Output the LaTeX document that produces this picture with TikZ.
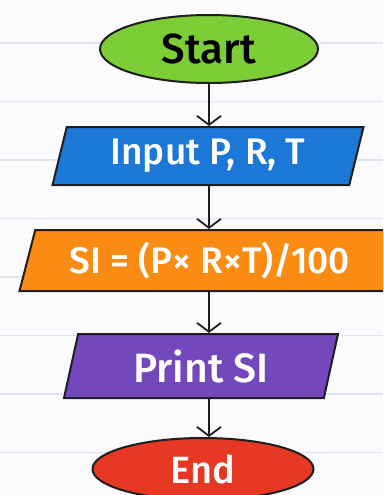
\documentclass[tikz,border=0pt]{standalone}
\usepackage{fontspec}
\setmainfont{Fira Sans Medium}
\usepackage{tikz}
\usetikzlibrary{shapes.geometric, arrows.meta, positioning, calc}
\definecolor{paper}{RGB}{251,251,253}
\definecolor{ruleblue}{RGB}{222,230,244}
\definecolor{startgreen}{RGB}{125,205,55}
\definecolor{inblue}{RGB}{28,120,215}
\definecolor{calcorange}{RGB}{250,140,20}
\definecolor{outpurple}{RGB}{115,72,188}
\definecolor{endred}{RGB}{230,55,35}
\definecolor{ink}{RGB}{30,30,30}

\tikzset{
  fsize/.style={font=\fontsize{#1}{#1}\selectfont},
  terminal/.style={ellipse, draw=ink, line width=2pt, inner sep=0pt},
  iobox/.style={trapezium, trapezium left angle=67, trapezium right angle=113,
    trapezium stretches body=true, draw=ink, line width=2pt, inner sep=0pt, text=white},
  flowarrow/.style={draw=ink, line width=1.8pt, -{Straight Barb[length=9pt,width=24pt,line width=1.8pt]}}
}

\begin{document}
\begin{tikzpicture}[x=1pt, y=-1pt]
\useasboundingbox (0,0) rectangle (383,495);
\fill[paper] (0,0) rectangle (383,495);
% ruled paper
\foreach \k in {0,...,7}
  \draw[ruleblue, line width=1.2pt] (0,{43+58.5*\k}) -- (383,{43+58.5*\k});

\begin{scope}
\clip (0,0) rectangle (383,495);
\node[terminal, fill=startgreen, fsize=42, minimum width=218pt, minimum height=68pt] (start) at (209,49) {Start};
\node[iobox, fill=inblue, fsize=37, minimum width=311pt, minimum height=58pt] (input) at (208,156) {Input P, R, T};
\node[iobox, fill=calcorange, fsize=37, minimum width=381pt, minimum height=61pt] (calc) at (210,260.5) {SI = (P× R×T)/100};
\node[iobox, fill=outpurple, fsize=41, minimum width=274pt, minimum height=64pt] (print) at (201,366) {Print SI};
\node[terminal, fill=endred, text=white, fsize=38, minimum width=221pt, minimum height=62pt] (finish) at (203,469) {End};
\end{scope}

\draw[flowarrow] (start.south) -- (start.south |- input.north);
\draw[flowarrow] (start.south |- input.south) -- (start.south |- calc.north);
\draw[flowarrow] (start.south |- calc.south) -- (start.south |- print.north);
\draw[flowarrow] (start.south |- print.south) -- (start.south |- finish.north);
\end{tikzpicture}
\end{document}
